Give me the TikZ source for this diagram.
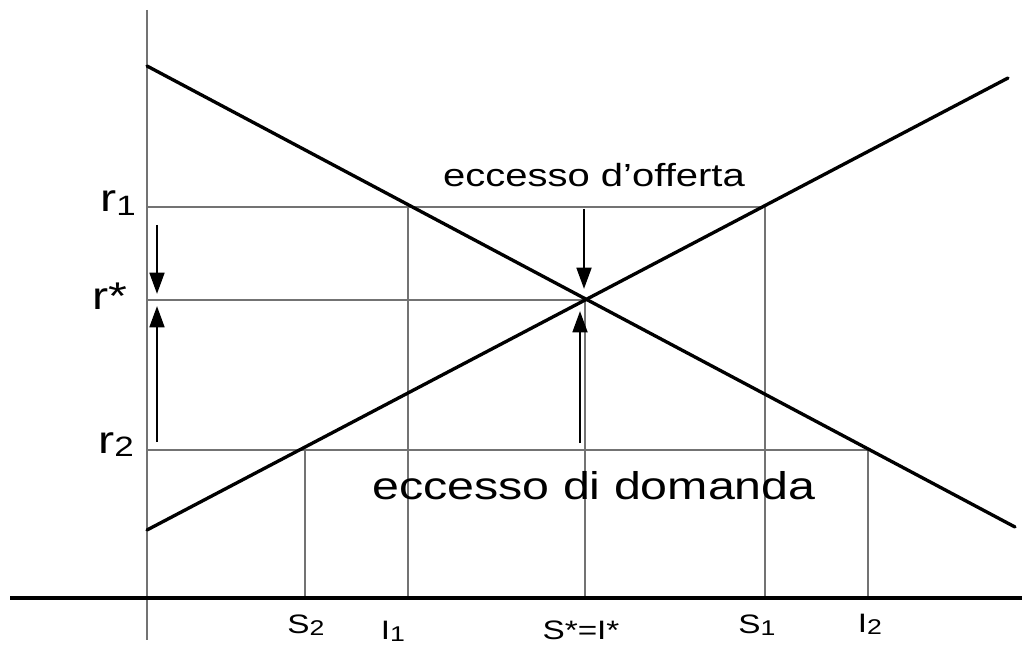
\documentclass[tikz,border=0pt]{standalone}
\usepackage{fontspec}
\usepackage{graphicx}
\setmainfont{Liberation Sans}
\usetikzlibrary{arrows.meta}
\newcommand{\hsc}[1]{\scalebox{1.25}[1]{#1}}
\newcommand{\lsub}[2]{\raisebox{-0.08em}{\fontsize{#1}{#1}\selectfont #2}}
\begin{document}
\begin{tikzpicture}[x=0.75pt,y=-0.75pt,
  gridline/.style={draw=black!55,line width=0.8pt},
  curve/.style={draw=black,line width=2.5pt,line cap=round},
  arr/.style={draw=black,line width=2.1pt,-{Triangle[width=11pt,length=16pt]}},
  rlab/.style={inner sep=0pt,anchor=base east,font=\fontsize{29}{32}\selectfont},
  xlab/.style={inner sep=0pt,anchor=base,font=\fontsize{20}{22}\selectfont},
  big/.style={inner sep=0pt,anchor=base,font=\fontsize{29}{32}\selectfont},
  mid/.style={inner sep=0pt,anchor=base,font=\fontsize{24}{26}\selectfont}]
\useasboundingbox (0,0) rectangle (1024,645);
% key points
\coordinate (Ytop) at (147,10);
\coordinate (Ybot) at (147,640);
\coordinate (Xl) at (10,598);
\coordinate (Xr) at (1022,598);
\coordinate (D1) at (147,66);
\coordinate (D2) at (1015,527);
\coordinate (S1e) at (147,530);
\coordinate (S2e) at (1008,78);
\coordinate (E) at (585,300);
\coordinate (A1) at (408,207);
\coordinate (B1) at (765,207);
\coordinate (A2) at (305,450);
\coordinate (B2) at (868,450);
\coordinate (Y1) at (147,207);
\coordinate (Ys) at (147,300);
\coordinate (Y2) at (147,450);
\coordinate (XA2) at (305,598);
\coordinate (XA1) at (408,598);
\coordinate (XE) at (585,598);
\coordinate (XB1) at (765,598);
\coordinate (XB2) at (868,598);
% grid lines
\draw[gridline] (Y1) -- (B1);
\draw[gridline] (Ys) -- (E);
\draw[gridline] (Y2) -- (B2);
\draw[gridline] (A2) -- (XA2);
\draw[gridline] (A1) -- (XA1);
\draw[gridline] (E) -- (XE);
\draw[gridline] (B1) -- (XB1);
\draw[gridline] (B2) -- (XB2);
% axes
\draw[gridline] (Ytop) -- (Ybot);
\draw[draw=black,line width=2.4pt] (Xl) -- (Xr);
% curves
\draw[curve] (D1) -- (D2);
\draw[curve] (S1e) -- (S2e);
% arrows
\coordinate (la1) at (157,225);
\coordinate (la1t) at (157,294);
\coordinate (la2) at (157,442);
\coordinate (la2t) at (157,306);
\coordinate (ma1) at (584,209);
\coordinate (ma1t) at (584,289);
\coordinate (ma2) at (580,443);
\coordinate (ma2t) at (580,311);
\draw[arr] (la1) -- (la1t);
\draw[arr] (la2) -- (la2t);
\draw[arr] (ma1) -- (ma1t);
\draw[arr] (ma2) -- (ma2t);
% labels
\node[rlab] (r1) at (136,212) {\hsc{r\lsub{21}{1}}};
\node[rlab] (rs) at (128,309) {\hsc{r*}};
\node[rlab] (r2) at (134,453) {\hsc{r\lsub{21}{2}}};
\node[xlab] (lS2) at (306,633) {\hsc{S\lsub{16}{2}}};
\node[xlab] (lI1) at (393,639) {\hsc{I\lsub{16}{1}}};
\node[xlab] (lSI) at (581,639) {\hsc{S*=I*}};
\node[xlab] (lS1) at (757,633) {\hsc{S\lsub{16}{1}}};
\node[xlab] (lI2) at (870,632) {\hsc{I\lsub{16}{2}}};
\node[mid] (eo) at (594,187) {\hsc{eccesso d’offerta}};
\node[big] (ed) at (594,499) {\hsc{eccesso di domanda}};
\end{tikzpicture}
\end{document}
